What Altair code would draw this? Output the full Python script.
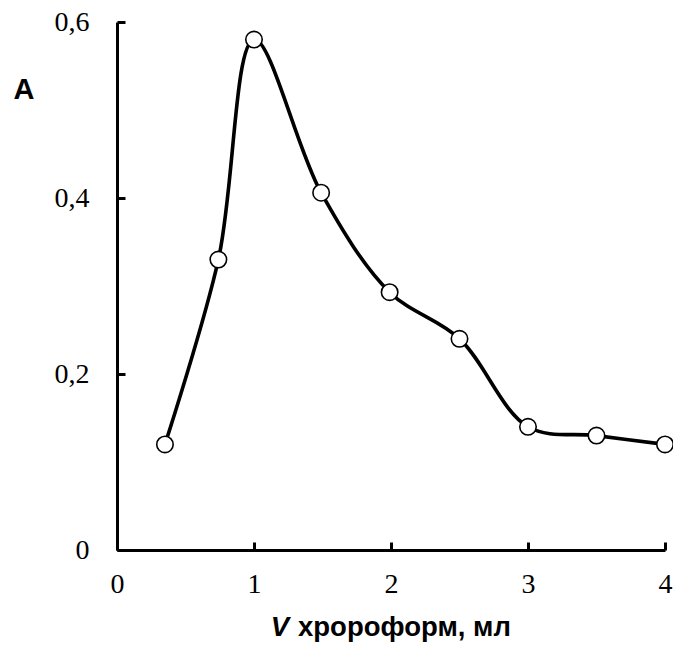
import altair as alt
import pandas as pd

vol = [0.35, 0.74, 1.0, 1.49, 1.99, 2.5, 3.0, 3.5, 4.0]
absorb = [0.12, 0.33, 0.58, 0.406, 0.293, 0.24, 0.14, 0.13, 0.12]
x_ticks = [0, 1, 2, 3, 4]
y_ticks = [0, 0.2, 0.4, 0.6]

df = pd.DataFrame({"v": vol, "a": absorb})

W, H = 548, 528
xs = alt.Scale(domain=[0, 4], nice=False)
ys = alt.Scale(domain=[0, 0.6], nice=False)

ylabel = "datum.value == 0 ? '0' : replace(format(datum.value, '.1f'), '.', ',')"
SERIF = "Liberation Serif"

x_main = alt.X("v:Q", scale=xs, axis=alt.Axis(values=x_ticks, title=None, grid=False, ticks=False,
               labelFont=SERIF, labelFontSize=28, labelColor="black", labelPadding=20, labelFlush=False,
               domainColor="black", domainWidth=3, format="d"))
y_main = alt.Y("a:Q", scale=ys, axis=alt.Axis(values=y_ticks, title=None, grid=False, ticks=False,
               labelFont=SERIF, labelFontSize=28, labelColor="black", labelPadding=28, labelFlush=False,
               domainColor="black", domainWidth=3, labelExpr=ylabel))

line = alt.Chart(df).mark_line(color="black", strokeWidth=3.6, interpolate="catmull-rom").encode(x=x_main, y=y_main)
pts = alt.Chart(df).mark_point(shape="circle", filled=True, fill="white", stroke="black",
                               strokeWidth=1.6, size=270, opacity=1).encode(
    x=alt.X("v:Q", scale=xs, axis=None), y=alt.Y("a:Q", scale=ys, axis=None))

tick_layer = alt.Chart(df).mark_point(opacity=0).encode(
    x=alt.X("v:Q", scale=xs, axis=alt.Axis(orient="top", offset=-H, values=x_ticks, labels=False,
            domain=False, grid=False, title=None, tickSize=8, tickWidth=3, tickColor="black")),
    y=alt.Y("a:Q", scale=ys, axis=alt.Axis(orient="right", offset=-W, values=y_ticks, labels=False,
            domain=False, grid=False, title=None, tickSize=8, tickWidth=3, tickColor="black")),
)

title_v = alt.Chart(pd.DataFrame({"t": ["V"]})).mark_text(
    font="Liberation Sans", fontSize=27.5, fontStyle="italic", fontWeight="bold", align="right", baseline="middle"
).encode(text="t:N", x=alt.value(172), y=alt.value(606))
title_rest = alt.Chart(pd.DataFrame({"t": ["хророформ, мл"]})).mark_text(
    font="Liberation Sans", fontSize=27.5, fontWeight="bold", align="left", baseline="middle"
).encode(text="t:N", x=alt.value(181), y=alt.value(606))
title_a = alt.Chart(pd.DataFrame({"t": ["A"]})).mark_text(
    font="Liberation Sans", fontSize=29, fontWeight="bold", align="center", baseline="middle"
).encode(text="t:N", x=alt.value(-93), y=alt.value(68))

chart = alt.layer(line, pts, tick_layer, title_v, title_rest, title_a).resolve_axis(
    x="independent", y="independent"
).properties(
    width=W, height=H,
    autosize=alt.AutoSizeParams(type="none"),
    padding={"left": 117, "top": 22, "right": 8, "bottom": 98},
).configure(background="white").configure_view(stroke=None).configure_axis(
    labelFont=SERIF, labelFontSize=28, labelColor="black"
)

chart.save("out.html", embed_options={"renderer": "svg", "actions": False})
